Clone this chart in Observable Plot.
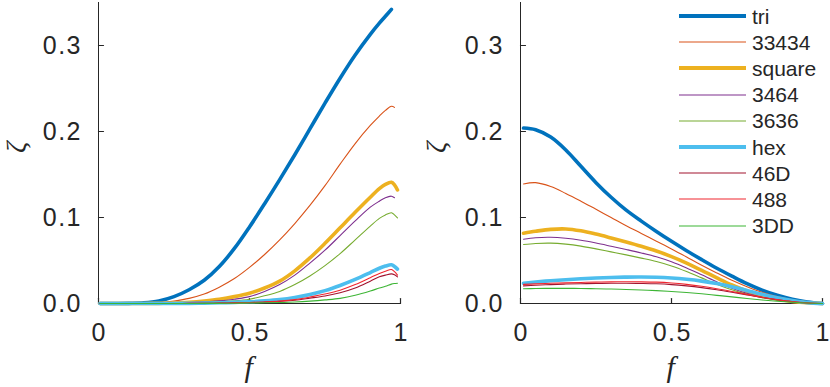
<!DOCTYPE html>
<html>
<head>
<meta charset="utf-8">
<script src="https://cdn.jsdelivr.net/npm/d3@7"></script>
<script src="https://cdn.jsdelivr.net/npm/@observablehq/plot@0.6"></script>
<style>
  html, body { margin: 0; padding: 0; background: #fff; }
  #chart { position: relative; width: 830px; height: 387px; overflow: hidden; font-family: "Liberation Sans", Arial, sans-serif; }
  #left { position: absolute; left: 0; top: 0; }
  #right { position: absolute; left: 420px; top: 0; }
  #legend { position: absolute; left: 679px; top: 3px; }
  .row { display: flex; align-items: center; height: 26.2px; }
  .row span { font-size: 21px; color: #262626; margin-left: 6px; line-height: 21px; }
  #left svg text, #right svg text { letter-spacing: 1.5px; }
</style>
</head>
<body>
<div id="chart"><div id="left"></div><div id="right"></div><div id="legend"></div></div>
<script>
// ---- data ----
const seriesNames = ["tri", "33434", "square", "3464", "3636", "hex", "46D", "488", "3DD"];

const fLeft = [0.005, 0.05, 0.1, 0.15, 0.2, 0.25, 0.3, 0.35, 0.4, 0.45, 0.5, 0.55, 0.6, 0.65, 0.7, 0.75, 0.8, 0.85, 0.9, 0.93, 0.95, 0.97, 0.98, 0.99];
const leftTri    = [0, 0, 0.0002, 0.0008, 0.003, 0.008, 0.016, 0.027, 0.043, 0.064, 0.089, 0.116, 0.144, 0.173, 0.203, 0.233, 0.262, 0.289, 0.313, 0.326, 0.334, 0.342, null, null];
const left33434  = [0, 0, 0, 0.0003, 0.001, 0.003, 0.006, 0.011, 0.019, 0.029, 0.042, 0.057, 0.074, 0.093, 0.114, 0.137, 0.162, 0.186, 0.207, 0.218, 0.2245, 0.2294, 0.228, null];
const leftSquare = [0, 0, 0, 0, 0.0002, 0.0005, 0.0015, 0.003, 0.005, 0.008, 0.012, 0.018, 0.026, 0.038, 0.053, 0.070, 0.088, 0.106, 0.1235, 0.1335, 0.1385, 0.141, 0.138, 0.132];
const left3464   = [0, 0, 0, 0, 0.0001, 0.0004, 0.001, 0.002, 0.003, 0.005, 0.008, 0.014, 0.022, 0.033, 0.047, 0.062, 0.079, 0.096, 0.112, 0.119, 0.123, 0.1248, 0.123, null];
const left3636   = [0, 0, 0, 0, 0, 0.0002, 0.0005, 0.001, 0.002, 0.003, 0.005, 0.009, 0.014, 0.022, 0.032, 0.044, 0.058, 0.074, 0.090, 0.099, 0.103, 0.1055, 0.103, 0.0996];
const leftHex    = [0, 0, 0, 0, 0, 0, 0.0002, 0.0004, 0.0008, 0.0013, 0.002, 0.003, 0.0045, 0.007, 0.0105, 0.015, 0.021, 0.028, 0.036, 0.041, 0.0435, 0.045, 0.043, 0.040];
const left46D    = [0, 0, 0, 0, 0, 0, 0.0001, 0.0002, 0.0004, 0.0007, 0.001, 0.0016, 0.0025, 0.0038, 0.0062, 0.0088, 0.0125, 0.018, 0.026, 0.031, 0.033, 0.0345, 0.0335, 0.031];
const left488    = [0, 0, 0, 0, 0, 0, 0.0001, 0.0002, 0.0004, 0.0007, 0.0011, 0.0018, 0.0028, 0.0045, 0.0075, 0.011, 0.0155, 0.022, 0.030, 0.035, 0.0375, 0.0395, 0.037, 0.033];
const left3DD    = [0, 0, 0, 0, 0, 0, 0, 0.0001, 0.0002, 0.0003, 0.0005, 0.0008, 0.0012, 0.0018, 0.0028, 0.0042, 0.006, 0.0095, 0.0145, 0.018, 0.020, 0.0225, 0.0232, 0.0236];

const fRight = [0.01, 0.05, 0.1, 0.15, 0.2, 0.25, 0.3, 0.35, 0.4, 0.45, 0.5, 0.55, 0.6, 0.65, 0.7, 0.75, 0.8, 0.85, 0.9, 0.95, 1.0];
const rightTri    = [0.204, 0.202, 0.1935, 0.1785, 0.1595, 0.1405, 0.1235, 0.1085, 0.0958, 0.0838, 0.0723, 0.0614, 0.051, 0.041, 0.0318, 0.023, 0.0155, 0.0095, 0.005, 0.0018, 0];
const right33434  = [0.139, 0.1405, 0.136, 0.128, 0.119, 0.1095, 0.1, 0.0905, 0.0815, 0.0725, 0.0635, 0.054, 0.0445, 0.0355, 0.027, 0.0195, 0.013, 0.008, 0.0043, 0.0015, 0];
const rightSquare = [0.0818, 0.084, 0.0862, 0.0867, 0.0845, 0.0807, 0.0762, 0.0715, 0.0665, 0.061, 0.0545, 0.047, 0.0385, 0.0298, 0.0215, 0.0145, 0.009, 0.0052, 0.0025, 0.0008, 0];
const right3464   = [0.0748, 0.0765, 0.077, 0.0758, 0.0735, 0.0703, 0.0666, 0.0628, 0.0588, 0.0543, 0.0485, 0.0413, 0.0333, 0.0252, 0.0178, 0.0118, 0.0073, 0.0042, 0.002, 0.0006, 0];
const right3636   = [0.0686, 0.0698, 0.0702, 0.069, 0.0667, 0.0635, 0.06, 0.0565, 0.0528, 0.0488, 0.0437, 0.0372, 0.0298, 0.0225, 0.016, 0.0107, 0.0067, 0.0038, 0.0018, 0.0005, 0];
const rightHex    = [0.0236, 0.025, 0.0265, 0.0277, 0.0288, 0.0297, 0.0303, 0.0307, 0.0308, 0.0305, 0.0296, 0.0281, 0.026, 0.0232, 0.0196, 0.0152, 0.0107, 0.0067, 0.0034, 0.001, 0];
const right46D    = [0.0205, 0.0212, 0.022, 0.0226, 0.023, 0.0233, 0.0235, 0.0235, 0.0233, 0.0229, 0.022, 0.0205, 0.0185, 0.016, 0.0131, 0.010, 0.0069, 0.0043, 0.0021, 0.0006, 0];
const right488    = [0.0222, 0.0228, 0.0235, 0.024, 0.0245, 0.0249, 0.0252, 0.0253, 0.0252, 0.0248, 0.0238, 0.0222, 0.020, 0.0172, 0.014, 0.0106, 0.0073, 0.0045, 0.0022, 0.0007, 0];
const right3DD    = [0.0171, 0.0174, 0.0176, 0.0176, 0.0175, 0.0172, 0.0168, 0.0163, 0.0157, 0.015, 0.014, 0.0128, 0.0113, 0.0095, 0.0077, 0.0058, 0.0041, 0.0026, 0.0014, 0.0005, 0];

const xTicks = [0, 0.5, 1];
const xTickLabels = ["0", "0.5", "1"];
const yTicks = [0, 0.1, 0.2, 0.3];
const yTickLabels = ["0.0", "0.1", "0.2", "0.3"];
const xLabel = "f";
const yLabel = "ζ";

// ---- styles ----
const seriesColors = ["#0072BD", "#D95319", "#EDB120", "#7E2F8E", "#77AC30", "#4DBEEE", "#A2142F", "#F0262F", "#3DB535"];
const seriesWidths = [3.6, 1.1, 3.6, 1.1, 1.1, 3.6, 1.1, 1.1, 1.1];
const axisColor = "#262626";
const tickShape = {draw(context, l) { context.moveTo(0, 0); context.lineTo(0, -l); }};

const leftValues = [leftTri, left33434, leftSquare, left3464, left3636, leftHex, left46D, left488, left3DD];
const rightValues = [rightTri, right33434, rightSquare, right3464, right3636, rightHex, right46D, right488, right3DD];

function rows(fs, vals) {
  return fs.map((f, i) => ({f, v: vals[i]})).filter(d => d.v != null);
}

function panel(fs, values, width, marginLeft, marginRight) {
  const marks = [
    Plot.ruleX([0], {stroke: axisColor, strokeWidth: 1}),
    Plot.ruleY([0], {stroke: axisColor, strokeWidth: 1}),
    Plot.vector(yTicks, {x: () => 0, y: d => d, length: 5, rotate: 90, anchor: "start", shape: tickShape, stroke: axisColor, strokeWidth: 1.2}),
    Plot.vector(xTicks, {x: d => d, y: () => 0, length: 5, rotate: 0, anchor: "start", shape: tickShape, stroke: axisColor, strokeWidth: 1.2}),
    Plot.axisY({ticks: yTicks, tickSize: 0, tickPadding: 16.5, tickFormat: (d, i) => yTickLabels[i], label: null, fontSize: 25, fill: axisColor}),
    Plot.axisX({ticks: xTicks, tickSize: 0, tickPadding: 20, dx: 0.8, tickFormat: (d, i) => xTickLabels[i], label: null, fontSize: 25, fill: axisColor}),
    Plot.text([xLabel], {frameAnchor: "bottom", dy: 64, fontSize: 30, fontStyle: "italic", fontFamily: "Liberation Serif, serif", fill: axisColor, lineAnchor: "middle"}),
    Plot.text([yLabel], {frameAnchor: "left", dx: -(marginLeft - 16), rotate: -90, fontSize: 28, fontStyle: "italic", fontFamily: "Liberation Serif, serif", fill: axisColor, lineAnchor: "middle"})
  ];
  values.forEach((vals, k) => {
    marks.push(Plot.line(rows(fs, vals), {x: "f", y: "v", stroke: seriesColors[k], strokeWidth: seriesWidths[k], curve: "catmull-rom"}));
  });
  return Plot.plot({
    width, height: 387,
    marginLeft, marginRight, marginTop: 2, marginBottom: 84,
    x: {domain: [0, 1], axis: null},
    y: {domain: [0, 0.35], axis: null},
    style: {fontFamily: "Liberation Sans, Arial, sans-serif", background: "transparent", overflow: "visible"},
    marks
  });
}

document.getElementById("left").append(panel(fLeft, leftValues, 420, 98, 20));
document.getElementById("right").append(panel(fRight, rightValues, 410, 100, 8));

const legend = document.getElementById("legend");
seriesNames.forEach((name, k) => {
  const row = document.createElement("div");
  row.className = "row";
  row.innerHTML = `<svg width="67" height="8"><line x1="0" x2="67" y1="4" y2="4" stroke="${seriesColors[k]}" stroke-width="${seriesWidths[k] > 2 ? 3.8 : 1.2}"/></svg><span>${name}</span>`;
  legend.append(row);
});
</script>
</body>
</html>
